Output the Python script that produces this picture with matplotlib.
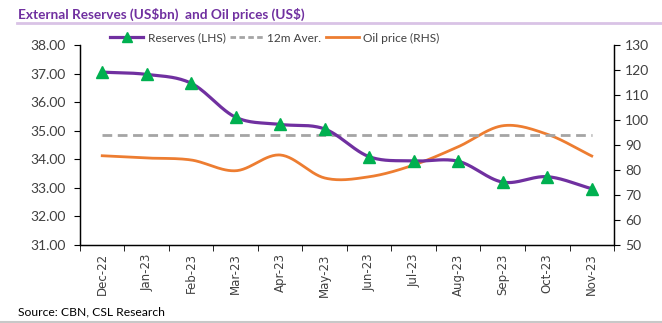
import matplotlib
matplotlib.use('Agg')
import matplotlib.pyplot as plt
from matplotlib.lines import Line2D
import numpy as np

months = ['Dec-22', 'Jan-23', 'Feb-23', 'Mar-23', 'Apr-23', 'May-23',
          'Jun-23', 'Jul-23', 'Aug-23', 'Sep-23', 'Oct-23', 'Nov-23']
reserves = [37.05, 36.97, 36.66, 35.47, 35.22, 35.06,
            34.09, 33.94, 33.93, 33.20, 33.39, 32.97]
avg_12m = 34.85
oil = [85.7, 84.8, 84.0, 79.7, 86.0, 76.8,
       77.3, 82.0, 89.3, 97.7, 94.3, 85.6]

purple = '#7030A0'
green = '#00B050'
orange = '#ED7D31'
grey = '#A5A5A5'


def smooth(y, n=30):
    # catmull-rom style curve through the points, like excel "smoothed line"
    y = np.asarray(y, float)
    x = np.arange(len(y), dtype=float)
    p = np.concatenate([[2 * y[0] - y[1]], y, [2 * y[-1] - y[-2]]])
    xs, ys = [], []
    for i in range(len(y) - 1):
        t = np.linspace(0, 1, n, endpoint=False)
        p0, p1, p2, p3 = p[i], p[i + 1], p[i + 2], p[i + 3]
        yy = 0.5 * ((2 * p1) + (-p0 + p2) * t + (2 * p0 - 5 * p1 + 4 * p2 - p3) * t ** 2
                    + (-p0 + 3 * p1 - 3 * p2 + p3) * t ** 3)
        xs.append(x[i] + t)
        ys.append(yy)
    xs.append([x[-1]])
    ys.append([y[-1]])
    return np.concatenate(xs), np.concatenate(ys)


fig = plt.figure(figsize=(6.62, 3.23), dpi=100)
ax = fig.add_axes([0.1208, 0.2415, 0.8067, 0.6192])
ax2 = ax.twinx()

x = np.arange(len(months))
sx, sy = smooth(reserves)
ax.plot(sx, sy, color=purple, lw=2.3, zorder=3)
ax.plot(x, reserves, ls='none', marker='^', ms=8, color=green, zorder=4)
ax.plot([x[0], x[-1]], [avg_12m, avg_12m], color=grey, lw=2, ls=(0, (3.5, 2)), zorder=2)

ox, oy = smooth(oil)
ax2.plot(ox, oy, color=orange, lw=2, zorder=2)

ax.set_zorder(ax2.get_zorder() + 1)
ax.patch.set_visible(False)

ax.set_xlim(-0.5, 11.5)
ax.set_ylim(31, 38)
ax.set_yticks(np.arange(31, 38.01, 1))
ax.set_yticklabels([f'{v:.2f}' for v in np.arange(31, 38.01, 1)])
ax2.set_ylim(50, 130)
ax2.set_yticks(np.arange(50, 131, 10))

ax.set_xticks(x)
ax.set_xticklabels(months, rotation=90, fontsize=8.5, color='#404040')
ax.set_xticks(np.arange(-0.5, 12, 1), minor=True)
ax.tick_params(axis='x', which='major', length=0, pad=6)
ax.tick_params(axis='x', which='minor', length=4, color='#000000')
ax.tick_params(axis='y', length=4, labelsize=10, labelcolor='#404040', pad=6)
ax2.tick_params(axis='y', length=4, labelsize=10, labelcolor='#404040', pad=4)

for a in (ax, ax2):
    a.spines['top'].set_visible(False)
    for s in ('left', 'right', 'bottom'):
        a.spines[s].set_color('#000000')
        a.spines[s].set_linewidth(0.9)
    for lab in a.get_yticklabels():
        lab.set_family('Lato')

handles = [Line2D([], [], color=purple, lw=2.3, marker='^', ms=7, mfc=green, mec=green),
           Line2D([], [], color=grey, lw=2, ls=(0, (2, 1.2))),
           Line2D([], [], color=orange, lw=2)]
fig.legend(handles, ['Reserves (LHS)', '12m Aver.', 'Oil price (RHS)'],
           loc='center', bbox_to_anchor=(0.415, 0.882), ncol=3, frameon=False,
           prop={'family': 'Lato', 'size': 8.6}, handlelength=2.8, columnspacing=0.35,
           handletextpad=0.35, labelcolor='#404040', borderpad=0)

fig.text(0.027, 0.955, r'External Reserves (US\$bn)  and Oil prices (US\$)', color=purple,
         fontsize=9.8, fontweight='bold', family='Lato', va='center')
fig.add_artist(Line2D([0.026, 1.0], [0.928, 0.928], color='#D9C3E6', lw=2))
fig.text(0.027, 0.033, 'Source: CBN, CSL Research', fontsize=8.7, family='Lato',
         color='#000000', va='center')
fig.add_artist(Line2D([0.0, 1.0], [0.003, 0.003], color='#C8C8C8', lw=1.5))

fig.savefig('out.png', dpi=100)
